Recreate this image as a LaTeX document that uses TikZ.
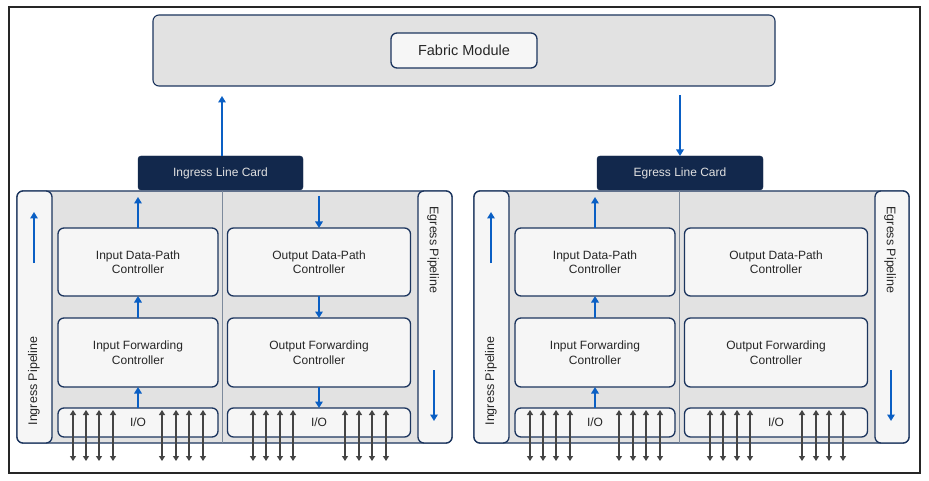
\documentclass[tikz,border=0pt]{standalone}
\usepackage{fontspec}
\setmainfont{Liberation Sans}
\usetikzlibrary{arrows.meta}
\definecolor{navy}{HTML}{1C355E}
\definecolor{lcfill}{HTML}{12284C}
\definecolor{grayfill}{HTML}{E2E2E2}
\definecolor{lightfill}{HTML}{F6F6F6}
\definecolor{flowblue}{HTML}{0A5FC4}
\definecolor{iogray}{HTML}{444444}
\definecolor{txt}{HTML}{262626}
\definecolor{divider}{HTML}{7D8A9C}
\tikzset{
  rbox/.style={draw=navy, line width=1.3pt, rounded corners=6pt, inner sep=0pt, outer sep=0pt},
  ctrl/.style={rbox, fill=lightfill, font=\fontsize{12}{14.5}\selectfont, text=txt, align=center},
  linecard/.style={fill=lcfill, draw=lcfill, rounded corners=3pt, inner sep=0pt, outer sep=0pt,
     text=white!88!black, font=\fontsize{12}{14}\selectfont},
  flow/.style={draw=flowblue, line width=1.8pt, -{Triangle[width=7.5pt,length=6.5pt]}},
  ioarrow/.style={draw=iogray, line width=1.5pt, {Triangle[width=6pt,length=5pt]}-{Triangle[width=6pt,length=5pt]}},
  pipetext/.style={font=\fontsize{12.5}{14}\selectfont, text=txt},
}
\newcommand\mycard[2]{%
  \begin{scope}[xshift=#2]
    \node[rbox, fill=grayfill, minimum width=435pt, minimum height=252pt] (#1card) at (234.5,317) {};
    \node[rbox, fill=lightfill, minimum width=35pt, minimum height=252pt] (#1lp) at (34.5,317) {};
    \node[rbox, fill=lightfill, minimum width=34pt, minimum height=252pt] (#1rp) at (435,317) {};
    \coordinate (#1divtop) at (222,191);
    \coordinate (#1divbot) at (222,443);
    \draw[divider, line width=0.8pt] (#1divtop) -- (#1divbot);
    \node[ctrl, minimum width=160pt, minimum height=68pt] (#1idp) at (138,262) {Input Data-Path\\Controller};
    \node[ctrl, minimum width=183pt, minimum height=68pt] (#1odp) at (319,262) {Output Data-Path\\Controller};
    \node[ctrl, minimum width=160pt, minimum height=69pt] (#1ifw) at (138,352.5) {Input Forwarding\\Controller};
    \node[ctrl, minimum width=183pt, minimum height=69pt] (#1ofw) at (319,352.5) {Output Forwarding\\Controller};
    \node[ctrl, minimum width=160pt, minimum height=29pt] (#1iio) at (138,422.5) {I/O};
    \node[ctrl, minimum width=183pt, minimum height=29pt] (#1oio) at (319,422.5) {I/O};
    \coordinate (#1itop) at (138,197);
    \draw[flow] (#1idp.north) -- (#1itop);
    \draw[flow] (#1ifw.north) -- (#1idp.south);
    \draw[flow] (#1iio.north) -- (#1ifw.south);
    \coordinate (#1lpa) at (34,263);
    \coordinate (#1lpb) at (34,212);
    \draw[flow] (#1lpa) -- (#1lpb);
    \coordinate (#1rpa) at (434,370);
    \coordinate (#1rpb) at (434,421);
    \draw[flow] (#1rpa) -- (#1rpb);
    \node[pipetext, rotate=90] (#1lptext) at (34,381) {Ingress Pipeline};
    \node[pipetext, rotate=-90] (#1rptext) at (433,250) {Egress Pipeline};
    \foreach \xx [count=\k] in {73,86,99,113,162,176,189,203,253,266,280,293,345,359,372,386} {
      \coordinate (#1io\k a) at (\xx,410);
      \coordinate (#1io\k b) at (\xx,461);
      \draw[ioarrow] (#1io\k a) -- (#1io\k b);
    }
  \end{scope}}
\begin{document}
\begin{tikzpicture}[x=1pt, y=-1pt]
  \useasboundingbox (0,0) rectangle (929,481);
  \fill[white] (0,0) rectangle (929,481);
  \coordinate (frameA) at (9,7);
  \coordinate (frameB) at (920,473);
  \draw[black!85, line width=1.6pt] (frameA) rectangle (frameB);
  % fabric
  \node[rbox, fill=grayfill, line width=1.1pt, minimum width=622pt, minimum height=71pt] (fabric) at (464,50.5) {};
  \node[ctrl, minimum width=146pt, minimum height=35pt, font=\fontsize{14.5}{16}\selectfont] (fm) at (464,50.5) {Fabric Module};
  % cards
  \mycard{L}{0pt}
  \mycard{R}{457pt}
  % line card headers
  \node[linecard, minimum width=165pt, minimum height=34pt] (ilc) at (220.5,173) {Ingress Line Card};
  \node[linecard, minimum width=166pt, minimum height=34pt] (elc) at (680,173) {Egress Line Card};
  % output side arrows (ingress card only)
  \coordinate (Lotop) at (319,196);
  \draw[flow] (Lotop) -- (Lodp.north);
  \draw[flow] (Lodp.south) -- (Lofw.north);
  \draw[flow] (Lofw.south) -- (Loio.north);
  % fabric connections
  \draw[flow, shorten >=10pt] ([xshift=1.5pt]ilc.north) -- ([xshift=1.5pt]ilc.north |- fabric.south);
  \draw[flow, shorten <=9pt] (elc.north |- fabric.south) -- (elc.north);
\end{tikzpicture}
\end{document}
